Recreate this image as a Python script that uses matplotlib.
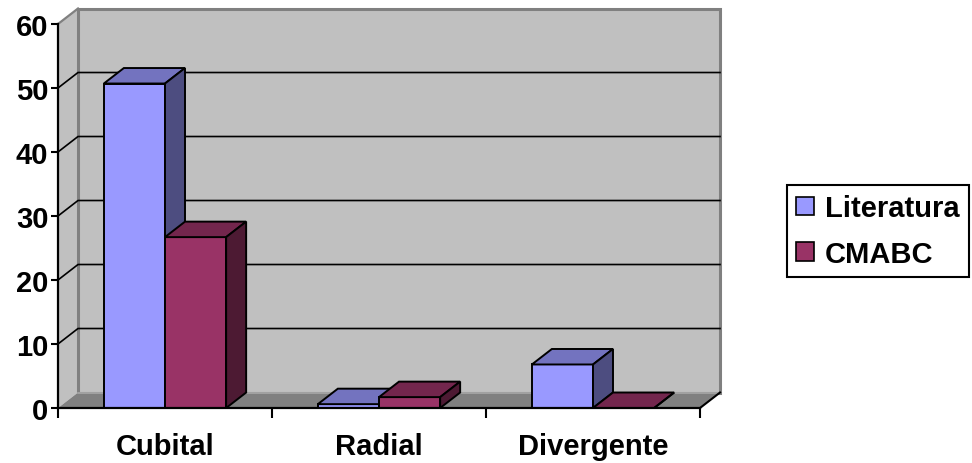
import matplotlib
matplotlib.use("Agg")
import matplotlib.pyplot as plt
from matplotlib.patches import Polygon, Rectangle, Patch

# ---------------------------------------------
# data
# ---------------------------------------------
categories = ["Cubital", "Radial", "Divergente"]
series_names = ["Literatura", "CMABC"]
literatura = [50.7, 0.6, 6.8]
cmabc = [26.7, 1.7, 0.0]
y_ticks = [0, 10, 20, 30, 40, 50, 60]

# ---------------------------------------------
# style
# ---------------------------------------------
WALL = "#C0C0C0"
FLOOR = "#808080"
EDGE = "#808080"
FS = 21

# front / top / side shades per series
SHADES = {
    "Literatura": ("#9999FF", "#7373BF", "#4D4D80"),
    "CMABC": ("#993366", "#73264D", "#4D1A33"),
}

plt.rcParams.update({
    "font.family": ["Liberation Sans", "DejaVu Sans"],
    "font.weight": "bold",
    "font.size": FS,
})

W, H = 972, 464
fig = plt.figure(figsize=(W / 100, H / 100), dpi=100)
fig.patch.set_facecolor("white")

# front plane of the 3d box
ax = fig.add_axes([58 / W, 55 / H, 642 / W, 384 / H])
ax.set_facecolor("none")
ax.set_xlim(0, len(categories))
ax.set_ylim(0, 60)

# depth offset of the box (data units)
DX = 20 / 214
DY = 2.42
YMAX = 60
NC = len(categories)

# side wall, back wall, floor
ax.add_patch(Polygon([(0, 0), (DX, DY), (DX, YMAX + DY), (0, YMAX)],
                     closed=True, facecolor=WALL, edgecolor="none",
                     zorder=0.5, clip_on=False))
ax.add_patch(Rectangle((DX, DY), NC, YMAX, facecolor=WALL, edgecolor=EDGE,
                       linewidth=2.2, zorder=0.5, clip_on=False))
ax.add_patch(Polygon([(0, 0), (NC, 0), (NC + DX, DY), (DX, DY)],
                     closed=True, facecolor=FLOOR, edgecolor="none",
                     zorder=0.6, clip_on=False))
ax.plot([DX, NC + DX], [DY, DY], color="#A8A8A8", lw=1.2, zorder=0.65,
        clip_on=False)

# gridlines run along the side wall and the back wall
for v in y_ticks[1:-1]:
    ax.plot([0, DX, NC + DX], [v, v + DY, v + DY], color="black", lw=1.2,
            zorder=0.7, clip_on=False)
ax.plot([0, DX], [YMAX, YMAX + DY], color=EDGE, lw=1.6, zorder=0.7,
        clip_on=False)
ax.plot([NC, NC + DX], [0, DY], color="black", lw=1.5, zorder=3,
        clip_on=False)

# ---------------------------------------------
# 3d bars
# ---------------------------------------------
bw = 1 / 3.5
for k, (name, vals) in enumerate(zip(series_names, [literatura, cmabc])):
    front, top, side = SHADES[name]
    xs = [i + 0.5 - bw + k * bw for i in range(NC)]
    bars = ax.bar(xs, vals, width=bw, align="edge", color=front,
                  edgecolor="black", linewidth=1.4, zorder=2 + k)
    for b in bars:
        x0 = b.get_x()
        x1 = x0 + b.get_width()
        v = b.get_height()
        ax.add_patch(Polygon([(x0, v), (x1, v), (x1 + DX, v + DY),
                              (x0 + DX, v + DY)], closed=True,
                             facecolor=top, edgecolor="black", linewidth=1.4,
                             zorder=2 + k))
        ax.add_patch(Polygon([(x1, 0), (x1 + DX, DY), (x1 + DX, v + DY),
                              (x1, v)], closed=True, facecolor=side,
                             edgecolor="black", linewidth=1.4, zorder=2 + k))

# ---------------------------------------------
# axes
# ---------------------------------------------
for s in ["top", "right"]:
    ax.spines[s].set_visible(False)
for s in ["left", "bottom"]:
    ax.spines[s].set_linewidth(1.6)
    ax.spines[s].set_zorder(3)

ax.set_yticks(y_ticks)
ax.tick_params(axis="y", direction="out", length=5, width=1.5, pad=2,
               labelsize=FS)
ax.set_xticks(range(NC + 1))
ax.set_xticklabels([])
ax.tick_params(axis="x", which="major", direction="out", length=7,
               width=1.5)
ax.set_xticks([i + 0.5 for i in range(NC)], minor=True)
ax.set_xticklabels(categories, minor=True)
ax.tick_params(axis="x", which="minor", length=0, pad=17, labelsize=FS)

# legend
handles = [Patch(facecolor=SHADES[n][0], edgecolor="black", linewidth=1.2)
           for n in series_names]
leg = fig.legend(handles, series_names, loc="center left",
                 bbox_to_anchor=(787 / W, (H - 232) / H), frameon=True,
                 fancybox=False, framealpha=1, edgecolor="black",
                 handlelength=0.62, handleheight=0.62, handletextpad=0.35,
                 labelspacing=0.6, borderpad=0.32, borderaxespad=0,
                 prop={"size": FS, "weight": "bold"})
leg.get_frame().set_linewidth(1.5)

fig.savefig("out.png", dpi=100)
